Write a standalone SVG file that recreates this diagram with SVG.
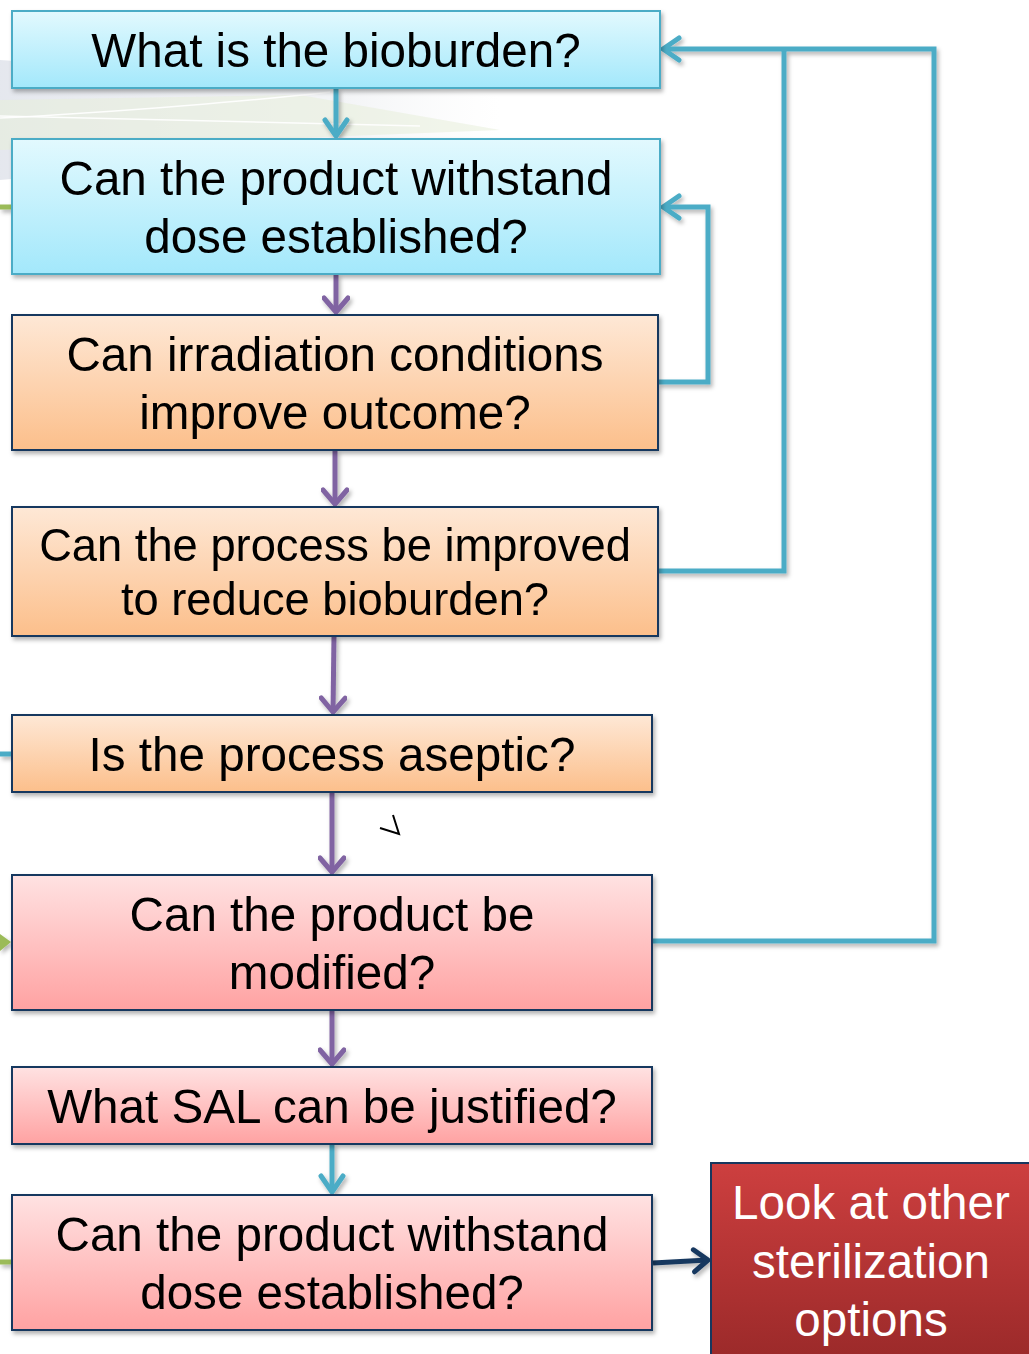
<svg xmlns="http://www.w3.org/2000/svg" width="1029" height="1354" viewBox="0 0 1029 1354">
<defs>
<style>
text{font-family:"Liberation Sans",Arial,sans-serif;font-size:47.6px;fill:#000;text-anchor:middle}
.cy{fill:url(#gCy);stroke:#4bacc6;stroke-width:2}
.or{fill:url(#gOr);stroke:#17375e;stroke-width:2}
.pk{fill:url(#gPk);stroke:#17375e;stroke-width:2}
.rd{fill:url(#gRd);stroke:#17375e;stroke-width:2}
.c{fill:none;stroke-width:5;stroke-linejoin:miter}
.lc{stroke:#4bacc6}
.lp{stroke:#8064a2}
.ln{stroke:#17375e}
.lg{stroke:#9bbb59}
</style>
<linearGradient id="gCy" x1="0" y1="0" x2="0" y2="1"><stop offset="0" stop-color="#e2f9fe"/><stop offset="1" stop-color="#a3e8fb"/></linearGradient>
<linearGradient id="gOr" x1="0" y1="0" x2="0" y2="1"><stop offset="0" stop-color="#fee8d6"/><stop offset="1" stop-color="#fcbf8b"/></linearGradient>
<linearGradient id="gPk" x1="0" y1="0" x2="0" y2="1"><stop offset="0" stop-color="#ffe2e2"/><stop offset="1" stop-color="#ffa2a2"/></linearGradient>
<linearGradient id="gRd" x1="0" y1="0" x2="0" y2="1"><stop offset="0" stop-color="#cd3f3f"/><stop offset="1" stop-color="#9a2929"/></linearGradient>
<linearGradient id="gBg" x1="0" y1="0" x2="1" y2="0"><stop offset="0" stop-color="#e2e5ec" stop-opacity="0.9"/><stop offset="0.7" stop-color="#eceef1" stop-opacity="0.6"/><stop offset="1" stop-color="#f4f5f6" stop-opacity="0"/></linearGradient>
<filter id="sh" x="-10%" y="-10%" width="120%" height="130%"><feDropShadow dx="2" dy="3" stdDeviation="2" flood-color="#000" flood-opacity="0.3"/></filter>
<marker id="aC" markerUnits="userSpaceOnUse" viewBox="-20 -14 24 28" refX="0" refY="0" markerWidth="24" markerHeight="28" orient="auto"><path d="M-16,-11 L0,0 L-16,11" fill="none" stroke="#4bacc6" stroke-width="5" stroke-linecap="round" stroke-linejoin="round"/></marker>
<marker id="aP" markerUnits="userSpaceOnUse" viewBox="-20 -14 24 28" refX="0" refY="0" markerWidth="24" markerHeight="28" orient="auto"><path d="M-14,-12 L0,0 L-14,12" fill="none" stroke="#8064a2" stroke-width="5" stroke-linecap="round" stroke-linejoin="round"/></marker>
<marker id="aN" markerUnits="userSpaceOnUse" viewBox="-20 -14 24 28" refX="0" refY="0" markerWidth="24" markerHeight="28" orient="auto"><path d="M-14,-11 L0,0 L-14,11" fill="none" stroke="#17375e" stroke-width="5" stroke-linecap="round" stroke-linejoin="round"/></marker>
</defs>
<rect width="1029" height="1354" fill="#fff"/>
<g id="background">
<polygon points="0,60 500,95 500,135 0,180" fill="url(#gBg)"/>
<polygon points="0,100 300,95 500,130 0,150" fill="#e8eedb" opacity="0.55"/>
<path d="M0,118 C120,112 260,100 330,92" fill="none" stroke="#fff" stroke-width="1.5" opacity="0.9"/>
<path d="M0,116 C150,120 300,124 420,126" fill="none" stroke="#fff" stroke-width="1.5" opacity="0.9"/>
</g>
<g id="connectors" filter="url(#sh)">
<line class="c lc" x1="336" y1="88" x2="336" y2="136" marker-end="url(#aC)"/>
<line class="c lp" x1="336" y1="274" x2="336" y2="312" marker-end="url(#aP)"/>
<line class="c lp" x1="335" y1="450" x2="335" y2="504" marker-end="url(#aP)"/>
<line class="c lp" x1="334" y1="636" x2="333" y2="712" marker-end="url(#aP)"/>
<line class="c lp" x1="332" y1="792" x2="332" y2="872" marker-end="url(#aP)"/>
<line class="c lp" x1="332" y1="1010" x2="332" y2="1064" marker-end="url(#aP)"/>
<line class="c lc" x1="332" y1="1144" x2="332" y2="1192" marker-end="url(#aC)"/>
<line class="c ln" x1="653" y1="1263" x2="708" y2="1260" marker-end="url(#aN)"/>
<polyline class="c lc" points="658,382 708,382 708,207 663,207" marker-end="url(#aC)"/>
<polyline class="c lc" points="658,571 784,571 784,50"/>
<polyline class="c lc" points="652,941 934,941 934,49 663,49" marker-end="url(#aC)"/>
<line class="c lg" x1="0" y1="207" x2="12" y2="207"/>
<line class="c lc" x1="0" y1="754" x2="12" y2="754"/>
<polygon points="0,934 11,942 0,951" fill="#9bbb59"/>
<line class="c lg" x1="0" y1="1262" x2="12" y2="1262"/>
</g>
<g id="n1" filter="url(#sh)"><rect class="cy" x="12" y="11" width="648" height="77"/><text x="336" y="67">What is the bioburden?</text></g>
<g id="n2" filter="url(#sh)"><rect class="cy" x="12" y="139" width="648" height="135"/><text x="336" y="195">Can the product withstand</text><text x="336" y="253">dose established?</text></g>
<g id="n3" filter="url(#sh)"><rect class="or" x="12" y="315" width="646" height="135"/><text x="335" y="371">Can irradiation conditions</text><text x="335" y="429">improve outcome?</text></g>
<g id="n4" filter="url(#sh)"><rect class="or" x="12" y="507" width="646" height="129"/><text x="335" y="561" style="font-size:45.3px">Can the process be improved</text><text x="335" y="615" style="font-size:45.3px">to reduce bioburden?</text></g>
<g id="n5" filter="url(#sh)"><rect class="or" x="12" y="715" width="640" height="77"/><text x="332" y="771">Is the process aseptic?</text></g>
<g id="n6" filter="url(#sh)"><rect class="pk" x="12" y="875" width="640" height="135"/><text x="332" y="931">Can the product be</text><text x="332" y="989">modified?</text></g>
<g id="n7" filter="url(#sh)"><rect class="pk" x="12" y="1067" width="640" height="77"/><text x="332" y="1123">What SAL can be justified?</text></g>
<g id="n8" filter="url(#sh)"><rect class="pk" x="12" y="1195" width="640" height="135"/><text x="332" y="1251">Can the product withstand</text><text x="332" y="1309">dose established?</text></g>
<g id="n9"><rect class="rd" x="711" y="1163" width="330" height="200"/><text x="871" y="1219" style="fill:#fff">Look at other</text><text x="871" y="1278" style="fill:#fff">sterilization</text><text x="871" y="1336" style="fill:#fff">options</text></g>
<polyline points="380,828 399,834 393,815" fill="none" stroke="#000" stroke-width="2"/>
</svg>
